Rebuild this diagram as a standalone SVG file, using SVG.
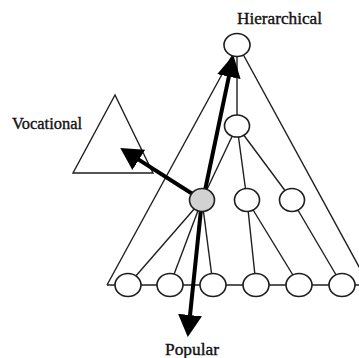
<svg xmlns="http://www.w3.org/2000/svg" width="359" height="358" viewBox="0 0 359 358">
<style>
.thin{stroke:#1e1e1e;stroke-width:1.4;fill:none}
.thick{stroke:#000;stroke-width:4;fill:none;marker-end:url(#head)}
.node{fill:#fff;stroke:#1e1e1e;stroke-width:1.6}
.focus{fill:#d2d2d2;stroke:#1e1e1e;stroke-width:1.6}
.lbl{font-family:"Liberation Serif","DejaVu Serif",serif;font-size:16px;fill:#111;stroke:#111;stroke-width:0.35}
</style>
<defs>
<marker id="head" markerUnits="userSpaceOnUse" markerWidth="24" markerHeight="26" refX="10" refY="12" orient="auto" viewBox="0 0 24 24">
<path d="M0,0 L22,12 L0,24 z" fill="#000"/>
</marker>
</defs>
<rect width="359" height="358" fill="#fff"/>
<g id="connectors">
<polygon class="thin" points="115,95 73,173 153,173"/>
<line class="thin" x1="238" y1="45" x2="107" y2="285"/>
<line class="thin" x1="238" y1="45" x2="369" y2="285"/>
<line class="thin" x1="107" y1="285" x2="359" y2="285"/>
<line class="thin" x1="237" y1="45" x2="237" y2="126"/>
<line class="thin" x1="237" y1="126" x2="202" y2="200"/>
<line class="thin" x1="237" y1="126" x2="247" y2="200"/>
<line class="thin" x1="237" y1="126" x2="292" y2="200"/>
<line class="thin" x1="202" y1="200" x2="128" y2="285"/>
<line class="thin" x1="202" y1="200" x2="170" y2="285"/>
<line class="thin" x1="202" y1="200" x2="213" y2="285"/>
<line class="thin" x1="247" y1="200" x2="256" y2="285"/>
<line class="thin" x1="247" y1="200" x2="299" y2="285"/>
<line class="thin" x1="292" y1="200" x2="342" y2="285"/>
<line class="thick" x1="202" y1="200" x2="130.4" y2="154.4"/>
<line class="thick" x1="203" y1="200" x2="230.9" y2="66.8"/>
<line class="thick" x1="202" y1="200" x2="189" y2="325"/>
</g>
<g id="n-top"><ellipse class="node" cx="237" cy="45" rx="13" ry="11.5"/></g>
<g id="n-mid"><ellipse class="node" cx="237" cy="126" rx="12.5" ry="11"/></g>
<g id="n-focus"><ellipse class="focus" cx="202" cy="200" rx="12.5" ry="11.5"/></g>
<g id="n-b"><ellipse class="node" cx="247" cy="200" rx="12.5" ry="11.5"/></g>
<g id="n-c"><ellipse class="node" cx="292" cy="200" rx="12.5" ry="11.5"/></g>
<g id="n-l1"><ellipse class="node" cx="128" cy="285" rx="13" ry="11.5"/></g>
<g id="n-l2"><ellipse class="node" cx="170" cy="285" rx="13" ry="11.5"/></g>
<g id="n-l3"><ellipse class="node" cx="213" cy="285" rx="13" ry="11.5"/></g>
<g id="n-l4"><ellipse class="node" cx="256" cy="285" rx="13" ry="11.5"/></g>
<g id="n-l5"><ellipse class="node" cx="299" cy="285" rx="13" ry="11.5"/></g>
<g id="n-l6"><ellipse class="node" cx="342" cy="285" rx="13" ry="11.5"/></g>
<g id="labels">
<text class="lbl" x="237" y="24" textLength="85" lengthAdjust="spacingAndGlyphs">Hierarchical</text>
<text class="lbl" x="12" y="129" textLength="70" lengthAdjust="spacingAndGlyphs">Vocational</text>
<text class="lbl" x="165" y="355" textLength="54" lengthAdjust="spacingAndGlyphs">Popular</text>
</g>
</svg>
